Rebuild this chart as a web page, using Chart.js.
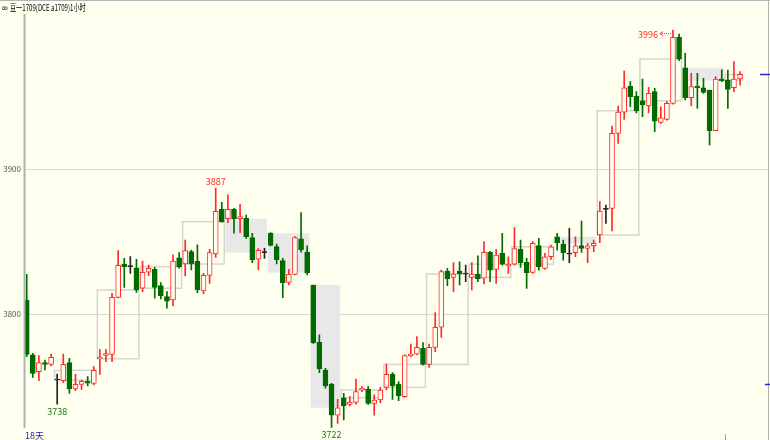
<!DOCTYPE html>
<html><head><meta charset="utf-8">
<script src="https://cdn.jsdelivr.net/npm/chart.js@4.4.0/dist/chart.umd.min.js"></script>
<style>html,body{margin:0;padding:0;background:#fffff0;overflow:hidden}canvas{display:block;background:#fffff0}</style>
</head><body>
<canvas id="c" width="770" height="440"></canvas>
<script>
// ---- data (1-hour candles, 豆一1709) ----
const titleText = '豆一1709(DCE a1709)1小时';
const periodLabel = '18天';
const yTicks = [3800, 3900];
const openP = [3809.9,3772.0,3760.5,3766.7,3765.5,3754.7,3754.2,3766.7,3748.5,3751.7,3753.8,3752.4,3769.4,3771.7,3772.4,3811.7,3834.7,3832.9,3832.0,3818.0,
3829.0,3831.1,3819.8,3812.2,3809.9,3838.9,3834.7,3843.3,3836.8,3816.1,3826.9,3841.6,3872.5,3866.0,3872.5,3866.0,3866.2,3852.9,3838.0,3842.6,
3855.9,3846.7,3837.0,3822.1,3827.6,3852.0,3843.0,3820.2,3780.7,3761.6,3751.7,3730.5,3742.5,3737.9,3739.3,3747.8,3748.5,3738.6,3740.9,3749.6,
3758.6,3751.7,3743.2,3771.5,3772.6,3776.6,3765.5,3777.2,3791.1,3829.9,3825.5,3829.9,3827.8,3825.5,3827.8,3824.9,3842.7,3831.0,3842.0,3833.5,
3834.6,3844.8,3835.8,3828.9,3847.5,3831.7,3839.7,3853.5,3848.4,3841.5,3842.5,3847.5,3845.5,3847.3,3854.7,3872.4,3873.1,3924.8,3939.5,3957.5,
3950.6,3947.3,3943.7,3953.6,3932.4,3934.5,3945.5,3991.0,3970.1,3949.4,3957.5,3956.3,3954.7,3926.6,3962.3,3961.6,3956.3,3962.3];
const highP = [3827.6,3773.1,3771.5,3768.5,3772.6,3758.8,3772.6,3769.7,3758.6,3754.7,3757.0,3763.9,3775.9,3775.9,3814.5,3843.9,3838.7,3839.8,3838.0,3836.8,
3834.0,3832.4,3821.9,3815.7,3841.0,3842.6,3851.3,3844.4,3847.9,3828.3,3844.9,3887.0,3877.3,3882.4,3873.2,3875.9,3868.5,3855.9,3845.3,3845.5,
3856.4,3848.5,3838.7,3831.0,3853.6,3870.2,3847.2,3820.2,3785.8,3762.7,3752.4,3741.4,3745.5,3743.2,3755.4,3750.1,3750.1,3744.4,3749.6,3765.7,
3759.8,3753.6,3772.0,3779.5,3784.6,3780.5,3779.5,3801.2,3830.6,3831.8,3835.7,3836.3,3834.0,3835.7,3840.3,3850.1,3843.5,3844.8,3855.8,3839.7,
3859.9,3851.2,3838.6,3850.1,3852.4,3842.0,3847.8,3855.8,3851.2,3859.3,3853.5,3864.3,3848.9,3851.2,3877.7,3875.4,3929.9,3943.7,3967.8,3960.5,
3953.6,3962.3,3956.5,3955.9,3943.2,3946.7,3996.0,3993.3,3980.0,3966.2,3966.2,3962.8,3954.7,3963.9,3968.6,3968.5,3974.3,3967.4];
const lowP = [3770.8,3756.5,3754.2,3761.6,3764.4,3738.0,3752.9,3745.5,3747.4,3748.3,3750.6,3751.3,3758.6,3767.4,3767.4,3811.3,3818.6,3828.3,3815.2,3815.7,
3826.7,3811.1,3810.6,3804.2,3805.8,3831.8,3826.5,3830.6,3815.0,3814.0,3821.4,3839.3,3863.5,3863.3,3855.9,3856.4,3852.4,3835.7,3830.6,3838.6,
3847.2,3834.7,3811.5,3820.3,3827.2,3842.8,3827.2,3780.0,3759.8,3749.0,3722.0,3724.8,3727.1,3736.8,3738.1,3746.7,3737.9,3730.5,3739.1,3747.8,
3741.4,3740.4,3742.7,3770.8,3772.0,3765.0,3763.4,3774.3,3784.1,3819.8,3815.6,3820.3,3822.5,3816.8,3822.5,3820.9,3822.5,3821.3,3833.9,3828.2,
3833.9,3832.3,3817.9,3828.2,3830.5,3831.0,3837.9,3844.3,3837.4,3835.6,3839.7,3842.7,3835.6,3843.2,3849.4,3862.7,3857.6,3917.9,3934.5,3943.2,
3939.0,3936.3,3939.0,3926.0,3931.7,3934.0,3945.0,3974.9,3947.8,3943.7,3942.0,3952.4,3916.8,3926.6,3960.4,3942.0,3953.6,3958.0];
const closeP = [3772.4,3759.3,3766.7,3765.5,3770.3,3754.7,3765.5,3748.5,3751.7,3753.8,3752.6,3761.4,3770.3,3772.9,3811.7,3833.8,3832.9,3832.9,3816.8,3829.0,
3831.8,3818.6,3812.9,3809.0,3836.8,3832.9,3843.9,3834.7,3816.8,3826.9,3842.6,3871.1,3863.9,3872.5,3866.0,3867.4,3853.6,3837.5,3844.2,3842.6,
3847.6,3837.5,3821.9,3827.6,3852.9,3844.4,3828.8,3780.5,3762.3,3750.6,3730.5,3735.6,3736.8,3739.5,3746.7,3749.0,3738.6,3740.9,3747.8,3758.6,
3750.6,3743.7,3771.5,3772.6,3777.2,3765.5,3777.2,3791.1,3829.5,3824.4,3827.8,3827.8,3827.8,3827.8,3824.4,3842.8,3830.5,3840.9,3834.6,3834.6,
3845.4,3835.6,3828.7,3848.9,3832.8,3839.7,3846.6,3849.4,3842.5,3841.5,3847.3,3845.5,3847.3,3848.9,3871.2,3872.4,3924.8,3939.5,3956.3,3950.1,
3940.4,3944.6,3952.4,3933.3,3935.6,3945.5,3991.0,3976.1,3949.4,3957.0,3956.3,3953.1,3926.6,3962.3,3961.1,3955.2,3962.3,3965.5];
// daily sessions (first / last hourly bar of each day drawn as a box)
const dayStart = [5,12,19,26,33,40,47,52,59,66,73,80,87,94,101,108,115];
const dayEnd   = [11,18,25,32,39,46,51,58,65,72,79,86,93,100,107,114,117];
// marked extremes
const markIdx = [5,31,50,106];
const markVal = [3738,3887,3722,3996];
// right-edge price markers
const rightMarks = [3965.5, 3752];
const dayTickIdx = [114.5];

const BG = '#fffff0', RED = '#ff2a2a', GREEN = '#006c00', DOJI = '#222222';
const FONT = "'Liberation Sans Narrow','Noto Sans CJK SC',sans-serif";
const idx = openP.map((_, i) => i);
const dir = idx.map(i => closeP[i] > openP[i] ? 1 : (closeP[i] < openP[i] ? -1 : 0));
const col = dir.map(d => d > 0 ? RED : (d < 0 ? GREEN : DOJI));

// target pixel mapping (from the reference): index -> px, price -> px
const X0PX = 26.7, XSTEP = 6.097;
const P_AT_Y0 = 4016.8, P_PER_PX = 0.6897;

const decor = {
  id: 'decor',
  beforeDatasetsDraw(chart) {
    const ctx = chart.ctx, xs = chart.scales.x, ys = chart.scales.y;
    ctx.save();
    for (let k = 0; k < dayStart.length; k++) {
      const s = dayStart[k], e = dayEnd[k];
      const o = openP[s], c = closeP[e];
      const x0 = xs.getPixelForValue(s - 0.42), x1 = xs.getPixelForValue(e + 0.4);
      const y0 = ys.getPixelForValue(Math.max(o, c)), y1 = ys.getPixelForValue(Math.min(o, c));
      if (c < o) {
        ctx.fillStyle = '#e8e8e8';
        ctx.fillRect(x0, y0, x1 - x0, y1 - y0);
      } else {
        ctx.strokeStyle = '#d6d6cc';
        ctx.lineWidth = 1.5;
        ctx.strokeRect(x0, y0, x1 - x0, y1 - y0);
      }
    }
    ctx.restore();
  },
  afterDraw(chart) {
    const ctx = chart.ctx, xs = chart.scales.x, ys = chart.scales.y;
    const W = chart.width, H = chart.height;
    ctx.save();
    ctx.strokeStyle = '#b4b4b4';
    ctx.lineWidth = 1;
    ctx.beginPath(); ctx.moveTo(0, 0.5); ctx.lineTo(W, 0.5); ctx.stroke();
    ctx.beginPath(); ctx.moveTo(768.5, 0); ctx.lineTo(768.5, H); ctx.stroke();
    // left axis line
    ctx.strokeStyle = '#b0b0b0'; ctx.lineWidth = 2;
    ctx.beginPath(); ctx.moveTo(24.5, 14); ctx.lineTo(24.5, 428); ctx.stroke();
    // title
    ctx.fillStyle = '#000';
    ctx.textBaseline = 'alphabetic';
    ctx.font = "9px 'DejaVu Sans',sans-serif";
    ctx.fillText('∞', 1, 11);
    ctx.save();
    ctx.translate(10, 11); ctx.scale(0.68, 1);
    ctx.font = "9px " + FONT;
    ctx.fillText(titleText, 0, 0);
    ctx.restore();
    // period label
    ctx.fillStyle = '#1c1ca8';
    ctx.font = "9px " + FONT;
    ctx.fillText(periodLabel, 25, 439);
    // extremes
    ctx.font = "9px " + FONT;
    markIdx.forEach((i, k) => {
      const v = markVal[k];
      const x = xs.getPixelForValue(i);
      const isHigh = Math.abs(highP[i] - v) < Math.abs(lowP[i] - v);
      if (i === 106) {
        const y = ys.getPixelForValue(v) + 3.5;
        ctx.fillStyle = RED; ctx.strokeStyle = RED; ctx.lineWidth = 1;
        ctx.textAlign = 'right'; ctx.textBaseline = 'middle';
        ctx.fillText(String(v), x - 15, y + 0.5);
        ctx.setLineDash([1, 1]);
        ctx.beginPath(); ctx.moveTo(x, y); ctx.lineTo(x - 12, y); ctx.stroke();
        ctx.setLineDash([]);
        ctx.beginPath(); ctx.moveTo(x - 10, y - 2); ctx.lineTo(x - 13, y); ctx.lineTo(x - 10, y + 2); ctx.stroke();
      } else if (isHigh) {
        ctx.fillStyle = RED; ctx.textAlign = 'center'; ctx.textBaseline = 'bottom';
        ctx.fillText(String(v), x, ys.getPixelForValue(v) - 2);
      } else {
        ctx.fillStyle = '#1a7a1a'; ctx.textAlign = 'center'; ctx.textBaseline = 'top';
        ctx.fillText(String(v), x, ys.getPixelForValue(v) + 3);
      }
    });
    // right markers
    ctx.strokeStyle = '#2a2ac8'; ctx.lineWidth = 1.5;
    rightMarks.forEach((v, k) => {
      const y = Math.round(ys.getPixelForValue(v)) + 0.5;
      ctx.beginPath(); ctx.moveTo(k === 0 ? 760 : 765, y); ctx.lineTo(770, y); ctx.stroke();
    });
    // day tick at bottom
    ctx.strokeStyle = '#a0a0a0'; ctx.lineWidth = 1;
    dayTickIdx.forEach(i => {
      const x = Math.round(xs.getPixelForValue(i)) + 0.5;
      ctx.beginPath(); ctx.moveTo(x, 434); ctx.lineTo(x, H); ctx.stroke();
    });
    ctx.restore();
  }
};

const chart = new Chart(document.getElementById('c'), {
  data: {
    datasets: [
      {
        type: 'bar', label: 'body', order: 1, grouped: false,
        data: idx.map(i => ({ x: i, y: [openP[i], closeP[i]] })),
        backgroundColor: dir.map(d => d > 0 ? BG : (d < 0 ? GREEN : DOJI)),
        borderColor: col, borderWidth: 1, borderSkipped: false,
        barThickness: 5, minBarLength: 1
      },
      {
        type: 'bar', label: 'wick', order: 2, grouped: false,
        data: idx.map(i => ({ x: i, y: [lowP[i], highP[i]] })),
        backgroundColor: col, borderWidth: 0, barThickness: 1
      }
    ]
  },
  options: {
    responsive: false, animation: false,
    layout: { padding: { top: 16, right: 2, left: 0, bottom: 0 }, autoPadding: false },
    plugins: { legend: { display: false }, tooltip: { enabled: false } },
    scales: {
      x: { type: 'linear', offset: false, min: -0.44, max: 121.6, display: false },
      y: {
        type: 'linear', position: 'left', min: 3713.3, max: 4005.8,
        afterFit: s => { s.width = 24; },
        afterBuildTicks: s => { s.ticks = yTicks.map(v => ({ value: v })); },
        grid: { color: '#dadad2', lineWidth: 1, drawTicks: false },
        border: { display: false },
        ticks: { color: '#555', padding: 3, font: { family: FONT, size: 8 }, callback: v => String(v) }
      }
    }
  },
  plugins: [decor]
});
const ca = chart.chartArea;
chart.options.scales.x.min = (ca.left - X0PX) / XSTEP;
chart.options.scales.x.max = (ca.right - X0PX) / XSTEP;
chart.options.scales.y.max = P_AT_Y0 - P_PER_PX * ca.top;
chart.options.scales.y.min = P_AT_Y0 - P_PER_PX * ca.bottom;
chart.update('none');
</script>
</body></html>
